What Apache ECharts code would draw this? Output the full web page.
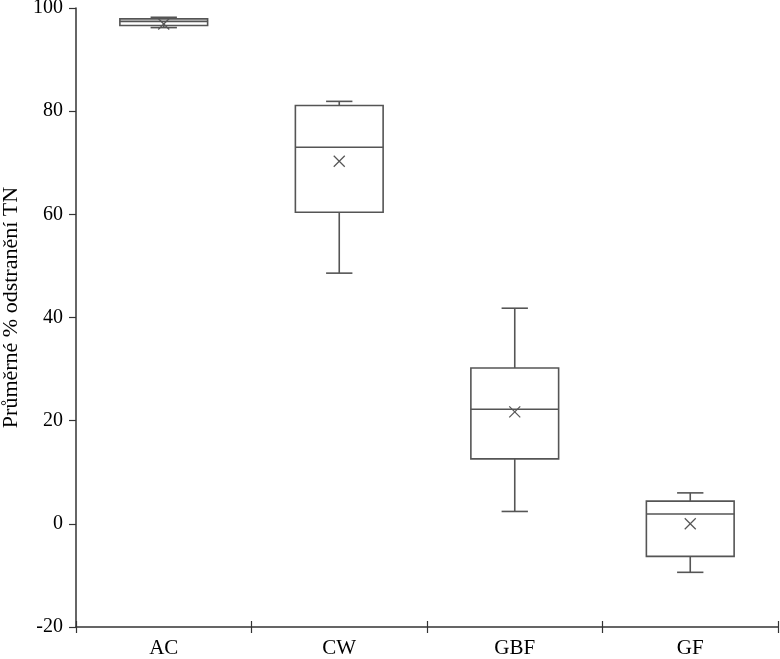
<!DOCTYPE html>
<html>
<head>
<meta charset="utf-8">
<script src="https://cdn.jsdelivr.net/npm/echarts@6/dist/echarts.min.js"></script>
<style>html,body{margin:0;padding:0;background:#fff;}#c{width:780px;height:659px;}</style>
</head>
<body>
<div id="c"></div>
<script>
var categories = ['AC', 'CW', 'GBF', 'GF'];
var whiskerLow = [96.2, 48.6, 2.4, -9.4];
var q1 = [96.6, 60.4, 12.6, -6.3];
var median = [97.4, 73.0, 22.2, 1.9];
var q3 = [97.9, 81.1, 30.2, 4.4];
var whiskerHigh = [98.2, 81.9, 41.8, 6.0];
var means = [96.9, 70.3, 21.7, 0.0];
var yTicks = [-20, 0, 20, 40, 60, 80, 100];

var boxData = categories.map(function (c, i) {
  return [i, whiskerLow[i], q1[i], median[i], q3[i], whiskerHigh[i], means[i]];
});

var lineColor = '#555';
var axisColor = '#333';
var fontFam = '"Liberation Serif", "DejaVu Serif", serif';

function renderBox(params, api) {
  var x = api.value(0);
  var band = api.size([1, 0])[0];
  var bw = band * 0.5;
  var cw = band * 0.15;
  var pLow = api.coord([x, api.value(1)]);
  var pQ1 = api.coord([x, api.value(2)]);
  var pMed = api.coord([x, api.value(3)]);
  var pQ3 = api.coord([x, api.value(4)]);
  var pHigh = api.coord([x, api.value(5)]);
  var pMean = api.coord([x, api.value(6)]);
  var cx = pMed[0];
  var st = { stroke: lineColor, lineWidth: 1.6, fill: null };
  var m = 5.5;
  return {
    type: 'group',
    children: [
      { type: 'line', shape: { x1: cx, y1: pHigh[1], x2: cx, y2: pQ3[1] }, style: st },
      { type: 'line', shape: { x1: cx, y1: pQ1[1], x2: cx, y2: pLow[1] }, style: st },
      { type: 'line', shape: { x1: cx - cw / 2, y1: pHigh[1], x2: cx + cw / 2, y2: pHigh[1] }, style: st },
      { type: 'line', shape: { x1: cx - cw / 2, y1: pLow[1], x2: cx + cw / 2, y2: pLow[1] }, style: st },
      { type: 'rect', shape: { x: cx - bw / 2, y: pQ3[1], width: bw, height: pQ1[1] - pQ3[1] }, style: { stroke: lineColor, lineWidth: 1.6, fill: '#fff' } },
      { type: 'line', shape: { x1: cx - bw / 2, y1: pMed[1], x2: cx + bw / 2, y2: pMed[1] }, style: st },
      { type: 'line', shape: { x1: cx - m, y1: pMean[1] - m, x2: cx + m, y2: pMean[1] + m }, style: { stroke: lineColor, lineWidth: 1.3 } },
      { type: 'line', shape: { x1: cx - m, y1: pMean[1] + m, x2: cx + m, y2: pMean[1] - m }, style: { stroke: lineColor, lineWidth: 1.3 } }
    ]
  };
}

var chart = echarts.init(document.getElementById('c'), null, { renderer: 'canvas' });
chart.setOption({
  backgroundColor: '#fff',
  animation: false,
  grid: { left: 76, right: 2, top: 8, bottom: 32, containLabel: false, outerBoundsMode: 'none' },
  xAxis: [{
    type: 'category',
    data: categories,
    axisLine: { onZero: false, lineStyle: { color: axisColor, width: 1.5 } },
    axisTick: { show: true, length: 6, lineStyle: { color: axisColor, width: 1.2 } },
    axisLabel: { color: '#000', fontFamily: fontFam, fontSize: 21, margin: 11 },
    splitLine: { show: false }
  }, {
    type: 'category',
    data: categories,
    position: 'bottom',
    axisLine: { show: false, onZero: false },
    axisTick: { show: true, inside: true, length: 6, lineStyle: { color: axisColor, width: 1.2 } },
    axisLabel: { show: false },
    splitLine: { show: false }
  }],
  yAxis: {
    type: 'value',
    min: yTicks[0],
    max: yTicks[yTicks.length - 1],
    interval: 20,
    name: 'Průměrné % odstranění TN',
    nameLocation: 'middle',
    nameGap: 45,
    nameTextStyle: { color: '#000', fontFamily: fontFam, fontSize: 22, padding: [0, 0, 0, 20] },
    axisLine: { show: true, lineStyle: { color: axisColor, width: 1.5 } },
    axisTick: { show: true, length: 7, lineStyle: { color: axisColor, width: 1.2 } },
    axisLabel: { color: '#000', fontFamily: fontFam, fontSize: 20, margin: 13 },
    splitLine: { show: false }
  },
  series: [{
    type: 'custom',
    xAxisIndex: 0,
    renderItem: renderBox,
    encode: { x: 0, y: [1, 2, 3, 4, 5, 6] },
    data: boxData
  }]
});
</script>
</body>
</html>
